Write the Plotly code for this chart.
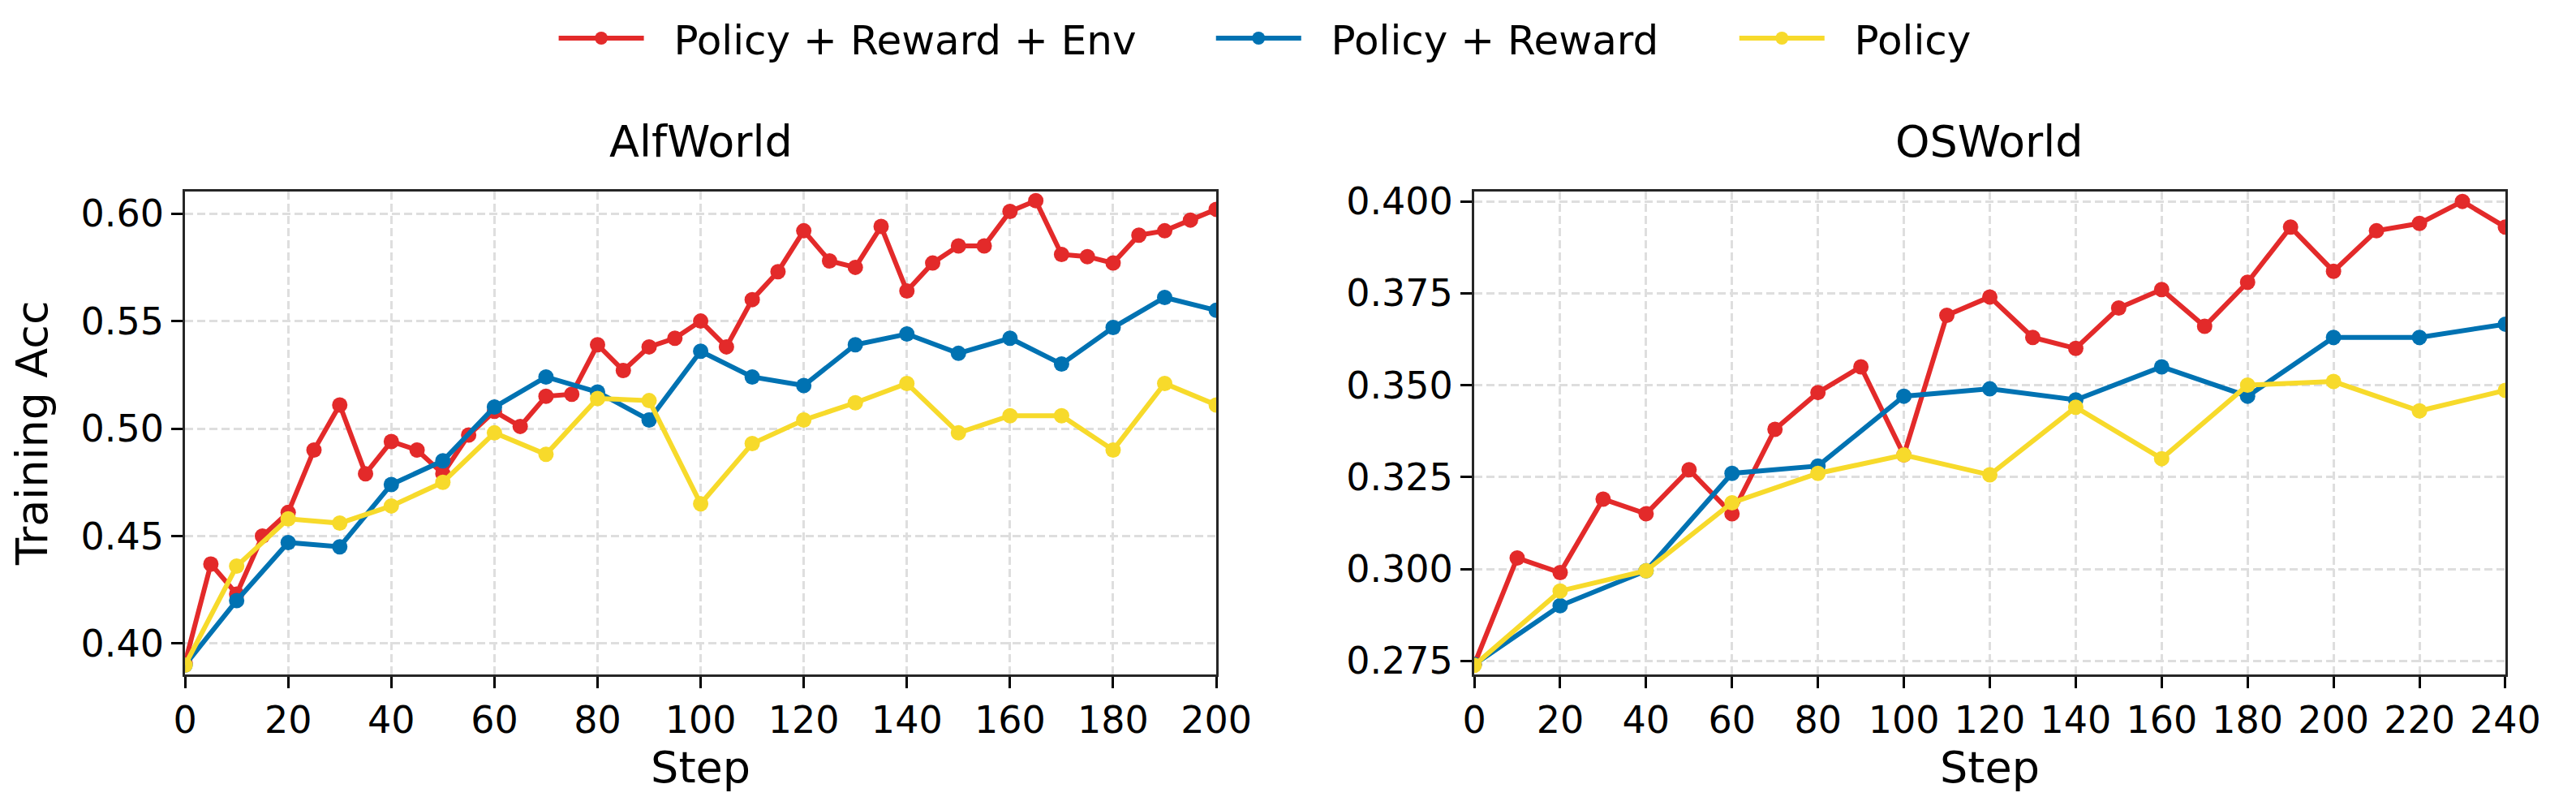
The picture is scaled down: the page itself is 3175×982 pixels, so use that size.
import plotly.graph_objects as go
from plotly.subplots import make_subplots

# AlfWorld
alf_steps_fine = [0, 5, 10, 15, 20, 25, 30, 35, 40, 45, 50, 55, 60, 65, 70, 75, 80, 85, 90, 95,
                  100, 105, 110, 115, 120, 125, 130, 135, 140, 145, 150, 155, 160, 165, 170, 175,
                  180, 185, 190, 195, 200]
alf_steps = [0, 10, 20, 30, 40, 50, 60, 70, 80, 90, 100, 110, 120, 130, 140, 150, 160, 170, 180, 190, 200]
alf_full = [0.391, 0.437, 0.423, 0.450, 0.461, 0.490, 0.511, 0.479, 0.494, 0.490, 0.479, 0.497,
            0.508, 0.501, 0.515, 0.516, 0.539, 0.527, 0.538, 0.542, 0.550, 0.538, 0.560, 0.573,
            0.592, 0.578, 0.575, 0.594, 0.564, 0.577, 0.585, 0.585, 0.601, 0.606, 0.581, 0.580,
            0.577, 0.590, 0.592, 0.597, 0.602]
alf_pr = [0.390, 0.420, 0.447, 0.445, 0.474, 0.485, 0.510, 0.524, 0.517, 0.504, 0.536, 0.524,
          0.520, 0.539, 0.544, 0.535, 0.542, 0.530, 0.547, 0.561, 0.555]
alf_p = [0.390, 0.436, 0.458, 0.456, 0.464, 0.475, 0.498, 0.488, 0.514, 0.513, 0.465, 0.493,
         0.504, 0.512, 0.521, 0.498, 0.506, 0.506, 0.490, 0.521, 0.511]

# OSWorld
os_steps_fine = [0, 10, 20, 30, 40, 50, 60, 70, 80, 90, 100, 110, 120, 130, 140, 150, 160, 170,
                 180, 190, 200, 210, 220, 230, 240]
os_steps = [0, 20, 40, 60, 80, 100, 120, 140, 160, 180, 200, 220, 240]
os_full = [0.274, 0.303, 0.299, 0.319, 0.315, 0.327, 0.315, 0.338, 0.348, 0.355, 0.331, 0.369,
           0.374, 0.363, 0.360, 0.371, 0.376, 0.366, 0.378, 0.393, 0.381, 0.392, 0.394, 0.400, 0.393]
os_pr = [0.274, 0.290, 0.2995, 0.326, 0.328, 0.347, 0.349, 0.346, 0.355, 0.347, 0.363, 0.363, 0.3666]
os_p = [0.2738, 0.294, 0.2995, 0.318, 0.326, 0.331, 0.3256, 0.344, 0.330, 0.350, 0.351, 0.343, 0.3486]

names = ['Policy + Reward + Env', 'Policy + Reward', 'Policy']
colors = ['#E32A2A', '#0072B2', '#F7DA2B']
FONT = 'DejaVu Sans'
GAP = '\u00a0\u00a0'  # space between legend line and label

fig = make_subplots(rows=1, cols=2)

panels = [
    (1, [(alf_steps_fine, alf_full), (alf_steps, alf_pr), (alf_steps, alf_p)]),
    (2, [(os_steps_fine, os_full), (os_steps, os_pr), (os_steps, os_p)]),
]
legend_ids = ['legend', 'legend2', 'legend3']
for col, series in panels:
    for i, (xs, ys) in enumerate(series):
        fig.add_trace(go.Scatter(
            x=xs, y=ys, mode='lines+markers', name=GAP + names[i],
            line=dict(color=colors[i], width=6),
            marker=dict(color=colors[i], size=19),
            showlegend=(col == 1), legend=legend_ids[i],
        ), row=1, col=col)

axis_common = dict(
    showline=True, linecolor='#262626', linewidth=3, mirror=True,
    ticks='outside', ticklen=14, tickwidth=3, tickcolor='#000000',
    showgrid=True, gridcolor='#dedede', gridwidth=2.5, griddash='10px,5px',
    zeroline=False, tickfont=dict(family=FONT, size=46, color='#000000'),
)

fig.update_xaxes(**axis_common, dtick=20, tick0=0)
fig.update_xaxes(range=[0, 200], domain=[0.06583, 0.47370], row=1, col=1)
fig.update_xaxes(range=[0, 240], domain=[0.57575, 0.98362], row=1, col=2)
for c in (1, 2):
    fig.update_xaxes(title=dict(text='Step', font=dict(family=FONT, size=54, color='#000000'), standoff=12),
                     row=1, col=c)

fig.update_yaxes(**axis_common, domain=[0.1553, 0.7773])
fig.update_yaxes(range=[0.3858, 0.6103], dtick=0.05, tick0=0.4, tickformat='.2f',
                 title=dict(text='Training Acc', font=dict(family=FONT, size=54, color='#000000'), standoff=31),
                 row=1, col=1)
fig.update_yaxes(range=[0.2714, 0.4027], dtick=0.025, tick0=0.275, tickformat='.3f', row=1, col=2)

# subplot titles
for xc, txt in [((0.06583 + 0.47370) / 2, 'AlfWorld'), ((0.57575 + 0.98362) / 2, 'OSWorld')]:
    fig.add_annotation(x=xc, y=0.806, xref='paper', yref='paper', text=txt, showarrow=False,
                       xanchor='center', yanchor='bottom',
                       font=dict(family=FONT, size=54, color='#000000'))

leg = dict(orientation='h', yanchor='middle', y=0.975, xanchor='left',
           font=dict(family=FONT, size=50, color='#000000'), bgcolor='rgba(0,0,0,0)',
           itemwidth=105)
fig.update_layout(
    width=3175, height=982,
    margin=dict(l=0, r=0, t=0, b=0),
    plot_bgcolor='white', paper_bgcolor='white',
    font=dict(family=FONT, color='#000000'),
    legend=dict(leg, x=0.212),
    legend2=dict(leg, x=0.472),
    legend3=dict(leg, x=0.679),
)

fig.write_html('out.html')
